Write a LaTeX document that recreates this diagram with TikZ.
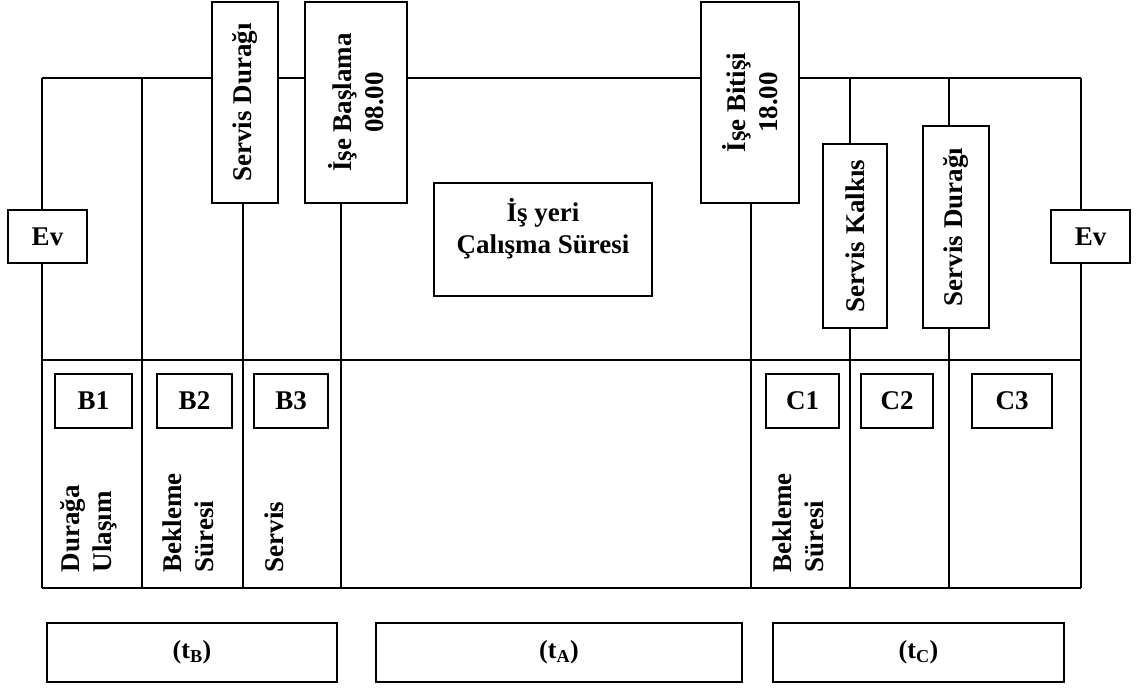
\documentclass[tikz,border=0pt]{standalone}
\usepackage{fontspec}
\setmainfont{Liberation Serif}
\usetikzlibrary{positioning}

\begin{document}
\begin{tikzpicture}[x=1pt,y=-1pt,line width=1.2pt,
  every node/.style={font=\bfseries\fontsize{27}{32}\selectfont},
  box/.style={draw,line width=2pt,fill=white,inner sep=0pt,align=center},
  vbox/.style={box,rotate=90},
  tbox/.style={box,minimum height=59,font=\bfseries\fontsize{26}{30}\selectfont},
  lbl/.style={rotate=90,anchor=west,align=left,inner sep=0pt}]
\useasboundingbox (0,0) rectangle (1139,688);
% grid
\coordinate (tl) at (42,78);   \coordinate (tr) at (1081,78);
\coordinate (ml) at (42,360);  \coordinate (mr) at (1081,360);
\coordinate (bl) at (42,588);  \coordinate (br) at (1081,588);
\coordinate (a1) at (142,78);  \coordinate (z1) at (142,588);
\coordinate (a2) at (243,78);  \coordinate (z2) at (243,588);
\coordinate (a3) at (341,78);  \coordinate (z3) at (341,588);
\coordinate (a4) at (751,78);  \coordinate (z4) at (751,588);
\coordinate (a5) at (850,78);  \coordinate (z5) at (850,588);
\coordinate (a6) at (949,78);  \coordinate (z6) at (949,588);
\draw (tl)--(tr);
\draw (ml)--(mr);
\draw (bl)--(br);
\draw (tl)--(bl);
\draw (tr)--(br);
\draw (a1)--(z1);
\draw (a2)--(z2);
\draw (a3)--(z3);
\draw (a4)--(z4);
\draw (a5)--(z5);
\draw (a6)--(z6);
% upper boxes
\node[box,minimum width=79,minimum height=53] (evL) at (47.5,236.5) {Ev};
\node[box,minimum width=79,minimum height=53] (evR) at (1090.5,236.5) {Ev};
\node[vbox,minimum width=201,minimum height=66] (durak1) at (245,102.5) {Servis Durağı};
\node[vbox,minimum width=201,minimum height=102] (basla) at (356,102.5) {İşe Başlama\\08.00};
\node[vbox,minimum width=201,minimum height=98] (bitis) at (750,102.5) {İşe Bitişi\\18.00};
\node[vbox,minimum width=184,minimum height=64] (kalkis) at (855,236) {Servis Kalkıs};
\node[vbox,minimum width=202,minimum height=66] (durak2) at (956,227) {Servis Durağı};
\node[box,minimum width=218,minimum height=113] (isyeri) at (543,239.5) {};
\node[align=center] (isyeritxt) at ([yshift=11pt]isyeri.center) {İş yeri\\Çalışma Süresi};
% B and C boxes
\node[box,minimum width=77,minimum height=54] (b1) at (93.5,401) {B1};
\node[box,minimum width=75,minimum height=54] (b2) at (194.5,401) {B2};
\node[box,minimum width=74,minimum height=54] (b3) at (291,401) {B3};
\node[box,minimum width=73,minimum height=54] (c1) at (802.5,401) {C1};
\node[box,minimum width=72,minimum height=54] (c2) at (897,401) {C2};
\node[box,minimum width=80,minimum height=54] (c3) at (1012,401) {C3};
% rotated labels
\node[lbl] (ulasim) at (89,573) {Durağa\\Ulaşım};
\node[lbl] (bekle1) at (188,573) {Bekleme\\Süresi};
\node[lbl] (servis) at (274,573) {Servis};
\node[lbl] (bekle2) at (798,573) {Bekleme\\Süresi};
% durations
\node[tbox,minimum width=290] (tB) at (192,652.5) {(t\textsubscript{B})};
\node[tbox,minimum width=366] (tA) at (559,652.5) {(t\textsubscript{A})};
\node[tbox,minimum width=291] (tC) at (918.5,652.5) {(t\textsubscript{C})};
\end{tikzpicture}
\end{document}
